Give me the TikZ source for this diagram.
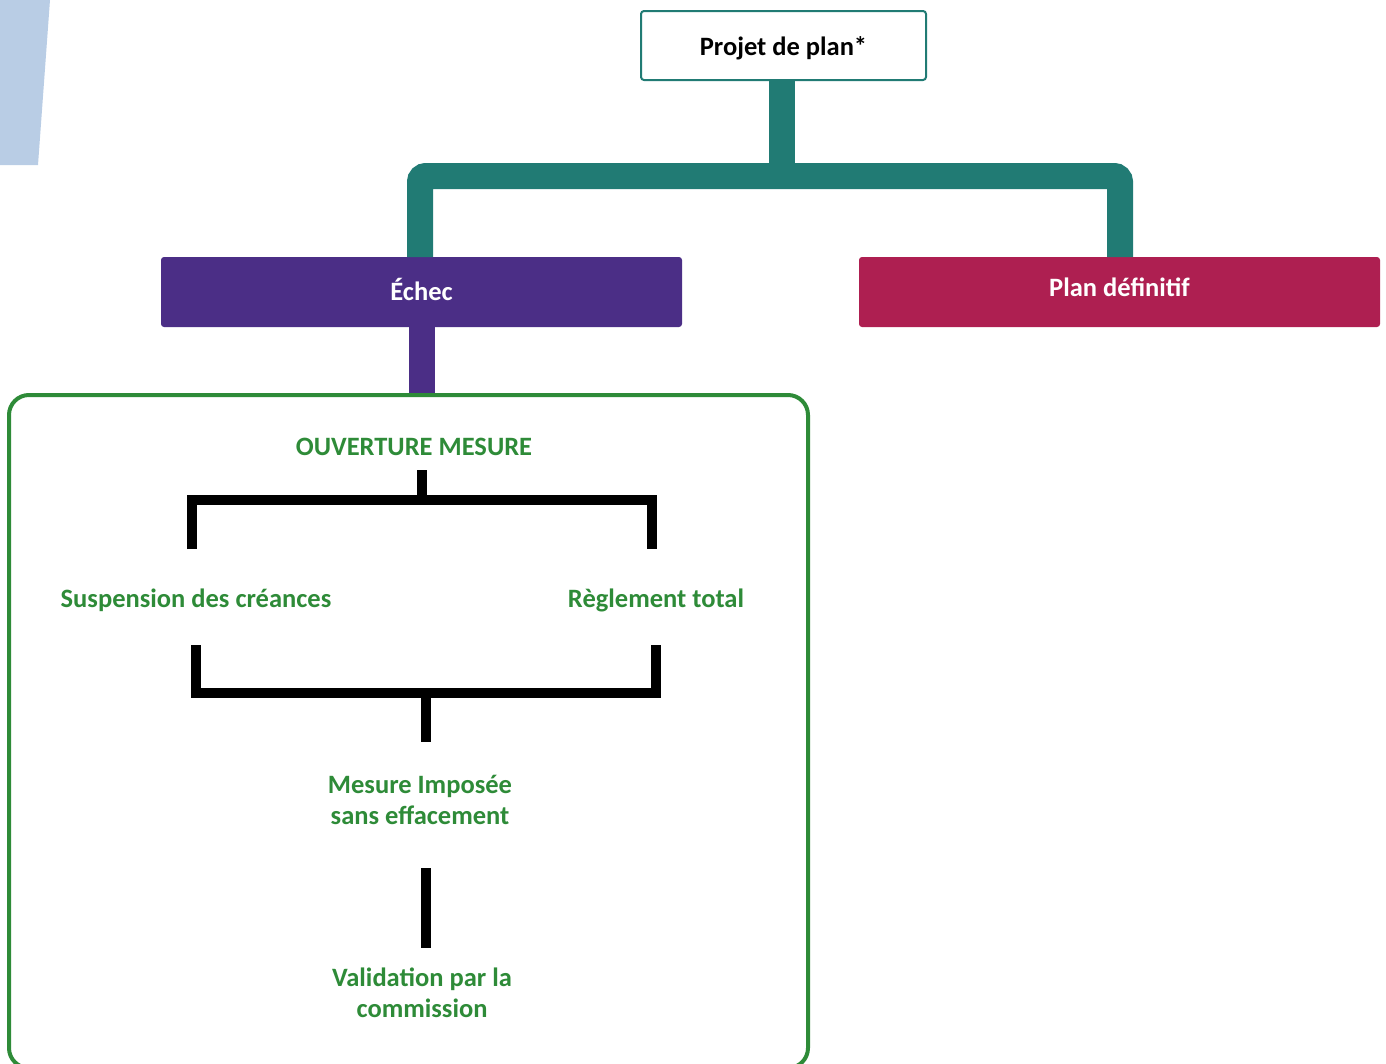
\documentclass[tikz,border=0pt]{standalone}
\usepackage{fontspec}
\setmainfont{Carlito}
\usetikzlibrary{positioning}
\definecolor{tealdark}{HTML}{217B74}
\definecolor{violet90}{HTML}{4B2E86}
\definecolor{crimson}{HTML}{AE1F51}
\definecolor{leaf}{HTML}{2E8B38}
\definecolor{skyblue}{HTML}{B9CDE5}

\begin{document}
\begin{tikzpicture}[x=1pt, y=-1pt,
    topbox/.style={draw=tealdark, line width=2pt, fill=white, rounded corners=3pt, minimum width=285pt, minimum height=69pt, font=\fontsize{26.5}{31}\selectfont\bfseries, text=black, inner sep=0pt, outer sep=0pt},
    colbox/.style={fill=#1, rounded corners=3pt, minimum width=521pt, minimum height=70pt, font=\fontsize{26.5}{31}\selectfont\bfseries, text=white, inner sep=0pt, outer sep=0pt},
    greentext/.style={font=\fontsize{26.5}{31}\selectfont\bfseries, text=leaf, align=center, inner sep=0pt},
    trunk/.style={line width=26pt, color=tealdark, rounded corners=6pt},
    stem/.style={line width=26pt, color=violet90},
    bracket/.style={line width=10pt, color=black},
]
\useasboundingbox (0,0) rectangle (1386,1063);

% blue corner shape
\fill[skyblue] (0,0) -- (50,0) -- (38,165) -- (0,165) -- cycle;

\node[topbox] (projet) at (783.5,45.5) {\smash{\raisebox{-10pt}{Projet de plan*}}};
\node[colbox=violet90] (echec) at (421.5,292) {\smash{\raisebox{-8pt}{Échec}}};
\node[colbox=crimson] (plan) at (1119.5,292) {\smash{\raisebox{-4pt}{Plan définitif}}};

\node[draw=leaf, line width=4pt, rounded corners=20pt, minimum width=799pt, minimum height=673pt, inner sep=0pt] (cadre) at (408.5,731.5) {};

\node[greentext] (ouverture) at (414,447) {OUVERTURE MESURE};
\node[greentext] (suspension) at (196,600) {Suspension des créances};
\node[greentext] (reglement) at (656,600) {Règlement total};
\node[greentext] (imposee) at (420,800) {Mesure Imposée\\sans effacement};
\node[greentext] (validation) at (422,993) {Validation par la\\commission};

% teal tree
\coordinate (fork) at (782,176);
\coordinate (legL) at (420,176);
\coordinate (legR) at (1120,176);
\draw[trunk] (projet.south -| fork) -- (fork);
\draw[trunk] (echec.north -| legL) -- (legL) -- (legR) -- (plan.north -| legR);

% purple stem
\draw[stem] (echec.south) -- (echec.south |- cadre.north);

% black brackets
\coordinate (bar1) at (422,500);
\coordinate (bar2) at (426,693);
\draw[bracket] (192,549) |- (bar1) -| (652,549);
\draw[bracket] (422,470) -- (bar1);
\draw[bracket] (196,645) |- (bar2) -| (656,645);
\draw[bracket] (bar2) -- (426,742);
\draw[bracket] (426,868) -- (426,948);

\end{tikzpicture}
\end{document}
